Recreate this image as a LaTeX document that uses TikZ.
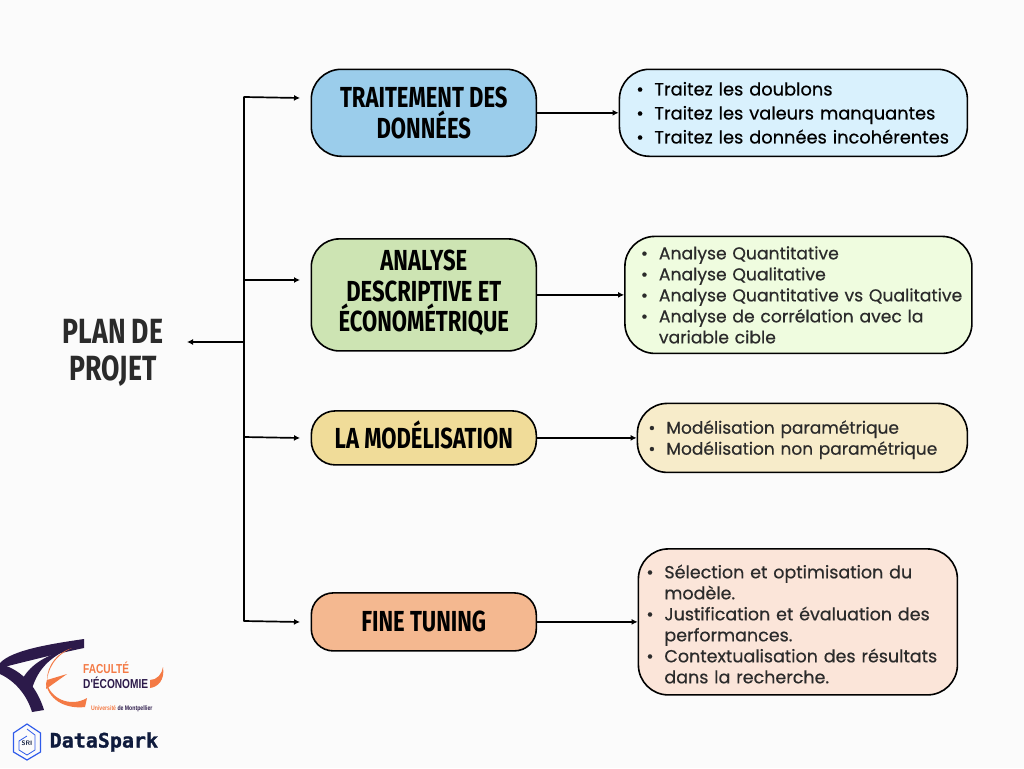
\documentclass[tikz,border=0pt]{standalone}
\usepackage{fontspec}
\usetikzlibrary{positioning,arrows.meta}
\setmainfont[FakeBold=0.5]{Poppins}
\newfontfamily\titrefont[FakeStretch=0.76]{Fira Sans}
\newfontfamily\logofont[FakeStretch=0.78]{Liberation Sans}
\newfontfamily\sparkfont[FakeBold=1.2]{DejaVu Sans Mono}
\definecolor{fond}{HTML}{FBFBFB}
\definecolor{encre}{HTML}{2B2B2B}
\definecolor{bleuT}{HTML}{9BCDEB}
\definecolor{vertT}{HTML}{CDE4B3}
\definecolor{jauneT}{HTML}{F0DC99}
\definecolor{orangeT}{HTML}{F4B890}
\definecolor{bleuD}{HTML}{D9F1FD}
\definecolor{vertD}{HTML}{EFFCDF}
\definecolor{jauneD}{HTML}{F7ECCA}
\definecolor{orangeD}{HTML}{FBE5D9}
\definecolor{violetF}{HTML}{2C1A4A}
\definecolor{orangeF}{HTML}{F47A45}
\definecolor{bleuS}{HTML}{2F5BEA}
\definecolor{marine}{HTML}{0F1B3D}
\newlength{\retrait}
\newcommand{\puce}{\hspace*{\retrait}\makebox[18pt][l]{\textbullet}}
\newcommand{\suite}{\hspace*{\retrait}\hspace*{18pt}}
\tikzset{
	titrebox/.style={draw=black, line width=1.6pt, minimum width=225pt, rounded corners=#1, align=center, inner sep=0pt, font=\titrefont\fontsize{29}{30.5}\selectfont\bfseries},
	descbox/.style={draw=black, line width=1.6pt, rounded corners=30pt, align=left, inner sep=0pt, text=encre, execute at begin node={\setlength{\retrait}{#1}}},
	fleche/.style={line width=1.7pt, -{Latex[length=6pt,width=6pt]}},
	trait/.style={line width=1.7pt},
}
\begin{document}
\begin{tikzpicture}[x=1pt, y=-1pt]
	\fill[fond] (0,0) rectangle (1024,768);
	\useasboundingbox (0,0) rectangle (1024,768);

	\node [titrebox=30pt, fill=bleuT, minimum height=87pt, anchor=north west] (t1) at (310.5,68.5) {TRAITEMENT DES\\DONNÉES};
	\node [titrebox=28pt, fill=vertT, minimum height=112pt, below=81pt of t1] (t2) {ANALYSE\\DESCRIPTIVE ET\\ÉCONOMÉTRIQUE\rule[-8pt]{0pt}{8pt}};
	\node [titrebox=24pt, fill=jauneT, minimum height=54pt, below=58.4pt of t2] (t3) {LA MODÉLISATION\rule[-6pt]{0pt}{6pt}};
	\node [titrebox=22pt, fill=orangeT, minimum height=58pt, below=126.4pt of t3] (t4) {FINE TUNING};

	\node [descbox=17pt, fill=bleuD, text=black, minimum height=87pt, text width=348pt, font=\fontsize{17.8}{24}\selectfont, right=81.5pt of t1] (d1) {\puce Traitez les doublons\\\puce Traitez les valeurs manquantes\\\puce Traitez les données incohérentes};
	\node [descbox=16pt, fill=vertD, minimum height=117pt, text width=347pt, font=\fontsize{17.2}{21}\selectfont, right=87pt of t2] (d2) {\puce Analyse Quantitative\\\puce Analyse Qualitative\\\puce Analyse Quantitative vs Qualitative\\\puce Analyse de corrélation avec la\\\suite variable cible};
	\node [descbox=11pt, fill=jauneD, minimum height=69pt, text width=330pt, font=\fontsize{17}{21}\selectfont, right=99.5pt of t3] (d3) {\rule{0pt}{17pt}\puce Modélisation paramétrique\\\puce Modélisation non paramétrique};
	\node [descbox=8pt, fill=orangeD, minimum height=146pt, text width=319pt, font=\fontsize{17.5}{21}\selectfont, right=100.5pt of t4] (d4) {\rule{0pt}{18pt}\puce Sélection et optimisation du\\\suite modèle.\\\puce Justification et évaluation des\\\suite performances.\\\puce Contextualisation des résultats\\\suite dans la recherche.};

	\node [font=\titrefont\fontsize{35}{37}\selectfont\bfseries, text=encre, align=center] (plan) at (113,353) {PLAN DE\\PROJET};

	\coordinate (h1) at (244,97);
	\coordinate (h2) at (244,280);
	\coordinate (h3) at (244,437);
	\coordinate (h4) at (244,621);
	\coordinate (m) at (244,342);
	\coordinate (a1) at (300,98);
	\coordinate (a2) at (300,280);
	\coordinate (a3) at (300,438);
	\coordinate (a4) at (300,622);
	\coordinate (p) at (187,342);

	\draw [trait, line cap=round] (h1) -- (h4);
	\draw [fleche] (h1) -- (a1);
	\draw [fleche] (h2) -- (a2);
	\draw [fleche] (h3) -- (a3);
	\draw [fleche] (h4) -- (a4);
	\draw [fleche] (m) -- (p);

	\draw [fleche] (t1) -- (d1);
	\draw [fleche] (t2) -- (d2);
	\draw [fleche] (t3) -- (d3);
	\draw [fleche] (t4) -- (d4);

	\fill [violetF] (84,639) .. controls (50,644) and (12,650) .. (0,663) -- (0,668) .. controls (20,663) and (55,654) .. (84,648) -- cycle;
	\fill [violetF] (0,664) .. controls (24,670) and (38,690) .. (44,710) -- (32,712) .. controls (27,695) and (15,681) .. (0,674) -- cycle;
	\fill [violetF] (21,682) .. controls (28,666) and (46,655) .. (64,651) .. controls (48,660) and (37,670) .. (31,692) -- cycle;
	\fill [orangeF] (72,648) .. controls (55,655) and (47,670) .. (47,683) .. controls (50,698) and (70,708) .. (87,698) -- (85,707) .. controls (68,709) and (50,702) .. (46,684) -- (47,680) .. controls (47,665) and (58,652) .. (72,648) -- cycle;
	\fill [orangeF] (47,680) -- (67,674) -- (46,689) -- cycle;
	\fill [orangeF] (163,667) .. controls (165,680) and (158,687) .. (150,688) -- (150,680) .. controls (157,680) and (162,674) .. (163,667) -- cycle;
	\node [font=\logofont\bfseries\fontsize{13}{13}\selectfont, text=orangeF, anchor=west, inner sep=0pt] (fac) at (83,668) {FACULTÉ};
	\node [font=\logofont\bfseries\fontsize{13}{13}\selectfont, text=violetF, anchor=west, inner sep=0pt] (eco) at (83,683) {D'ÉCONOMIE};
	\node [font=\logofont\bfseries\fontsize{6.6}{7}\selectfont, anchor=west, inner sep=0pt] (univ) at (91,708.5) {\textcolor{orangeF}{Université} \textcolor{violetF}{de Montpellier}};

	\draw [bleuS, line width=1.2pt] (27,724) -- (40.5,733) -- (40.5,752) -- (27,760) -- (13.5,752) -- (13.5,733) -- cycle;
	\draw [bleuS, line width=0.8pt] (27,729) -- (35,735) -- (35,750) -- (27,755) -- (19,750) -- (19,741) -- (27,736);
	\node [font=\sffamily\bfseries\fontsize{6.5}{7}\selectfont, text=marine, inner sep=0pt] (sri) at (27,743.5) {SRI};
	\node [font=\sparkfont\bfseries\fontsize{20}{20}\selectfont, text=marine, anchor=west, inner sep=0pt] (spark) at (49.5,742) {DataSpark};
\end{tikzpicture}
\end{document}
